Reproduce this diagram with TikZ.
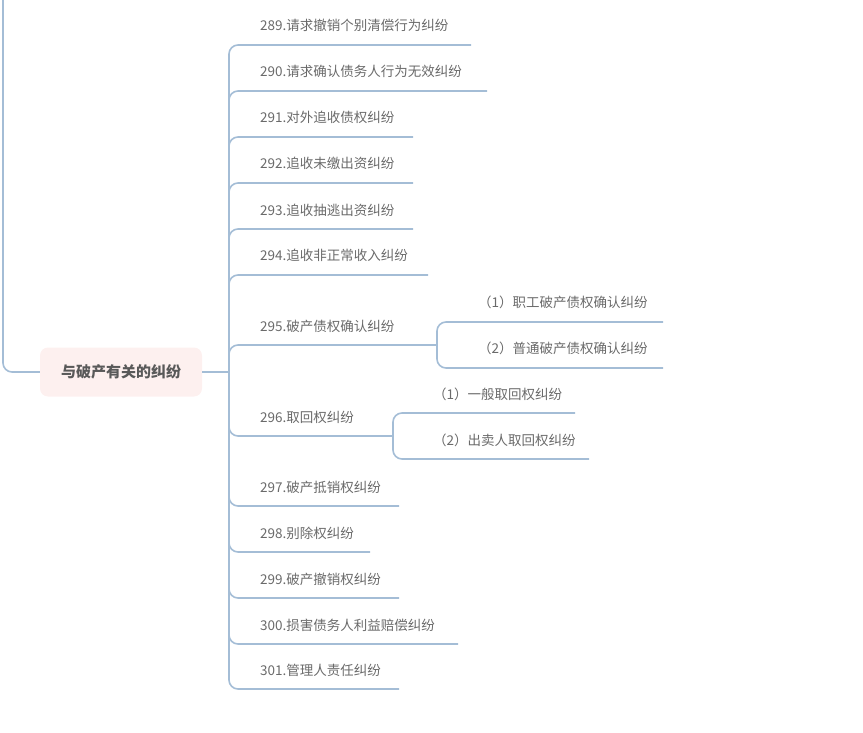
\documentclass[tikz,border=0pt]{standalone}
\usepackage{fontspec}
\setmainfont{Noto Sans CJK SC}
\begin{document}
\begin{tikzpicture}[x=1pt,y=-1pt,
  ln/.style={draw=lineblue,line width=1.6pt,rounded corners=9pt},
  lbl/.style={anchor=base west,inner sep=0pt,text=txtgray,font=\fontsize{13.5}{15}\selectfont}]
\definecolor{lineblue}{HTML}{A4BDD6}
\definecolor{txtgray}{HTML}{6A6A6A}
\definecolor{rootfill}{HTML}{FDF0EF}
\useasboundingbox (0,0) rectangle (863,733);
\node[fill=rootfill,rounded corners=8pt,minimum width=162pt,minimum height=49pt,inner sep=0pt,
  font=\bfseries\fontsize{15}{17}\selectfont,text=black!65] (root) at (121,372) {与破产有关的纠纷};
\coordinate (top) at (3,-5);
\draw[ln] (top) |- (root.west);
\coordinate (tr) at (229,372);
\draw[ln,rounded corners=0] (root.east) -- (tr);
\foreach \y/\e/\t/\n in {45/471/289.请求撤销个别清偿行为纠纷/a,91/487/290.请求确认债务人行为无效纠纷/b,137/413/291.对外追收债权纠纷/c,183/413/292.追收未缴出资纠纷/d,229/413/293.追收抽逃出资纠纷/e,275/428/294.追收非正常收入纠纷/f,345/437/295.破产债权确认纠纷/g,436/393/296.取回权纠纷/h,506/399/297.破产抵销权纠纷/i,552/370/298.别除权纠纷/j,598/399/299.破产撤销权纠纷/k,644/458/300.损害债务人利益赔偿纠纷/l,689/399/301.管理人责任纠纷/m}{
  \node[lbl] (\n) at (260,\y-14) {\t};
  \coordinate (\n e) at (\e,\y);
  \draw[ln] (tr) |- (\n e);
}
\node[lbl] (g1) at (478,307) {（1）职工破产债权确认纠纷};
\node[lbl] (g2) at (478,353) {（2）普通破产债权确认纠纷};
\coordinate (g1e) at (663,322); \coordinate (g2e) at (663,368);
\draw[ln] (ge) |- (g1e); \draw[ln] (ge) |- (g2e);
\node[lbl] (h1) at (433,399) {（1）一般取回权纠纷};
\node[lbl] (h2) at (433,445) {（2）出卖人取回权纠纷};
\coordinate (h1e) at (575,413); \coordinate (h2e) at (589,459);
\draw[ln] (he) |- (h1e); \draw[ln] (he) |- (h2e);
\end{tikzpicture}
\end{document}
